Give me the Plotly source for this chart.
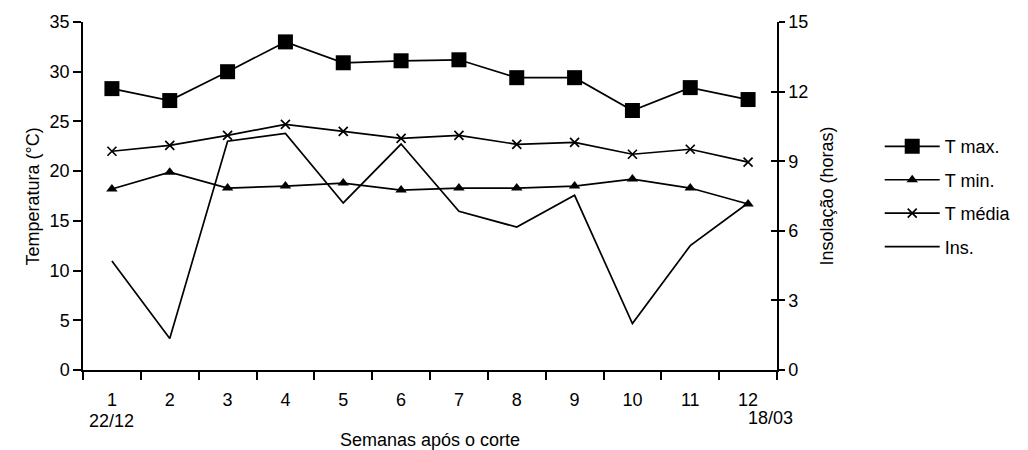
import plotly.graph_objects as go

weeks = ["1", "2", "3", "4", "5", "6", "7", "8", "9", "10", "11", "12"]
t_max = [28.3, 27.1, 30.0, 33.0, 30.9, 31.1, 31.2, 29.4, 29.4, 26.1, 28.4, 27.2]
t_min = [18.2, 19.9, 18.3, 18.5, 18.8, 18.1, 18.3, 18.3, 18.5, 19.2, 18.3, 16.7]
t_media = [22.0, 22.6, 23.6, 24.7, 24.0, 23.3, 23.6, 22.7, 22.9, 21.7, 22.2, 20.9]
insolacao = [4.7, 1.36, 9.86, 10.2, 7.2, 9.74, 6.84, 6.16, 7.53, 2.0, 5.36, 7.2]
date_labels = ["22/12", "18/03"]

FONT = "Liberation Sans, Arial, sans-serif"
BLACK = "#000000"

fig = go.Figure()
fig.add_trace(go.Scatter(x=weeks, y=t_max, name="T max.", mode="lines+markers",
                         line=dict(color=BLACK, width=1.7),
                         marker=dict(symbol="square", size=15, color=BLACK),
                         legendgroup="a"))
fig.add_trace(go.Scatter(x=weeks, y=t_min, name="T min.", mode="lines+markers",
                         line=dict(color=BLACK, width=1.7),
                         marker=dict(symbol="triangle-up", size=10, color=BLACK),
                         legendgroup="b"))
fig.add_trace(go.Scatter(x=weeks, y=t_media, name="T média", mode="lines+markers",
                         line=dict(color=BLACK, width=1.7),
                         marker=dict(symbol="x-thin", size=9, color=BLACK,
                                     line=dict(color=BLACK, width=1.7)),
                         legendgroup="c"))
fig.add_trace(go.Scatter(x=weeks, y=insolacao, name="Ins.", mode="lines",
                         line=dict(color=BLACK, width=1.7), yaxis="y2",
                         legendgroup="d"))
# invisible trace on yaxis3 so that the crossing ticks of the right axis are drawn
fig.add_trace(go.Scatter(x=weeks, y=insolacao, yaxis="y3", mode="lines",
                         line=dict(width=0), showlegend=False, hoverinfo="skip",
                         opacity=0))

axis_common = dict(showline=True, linecolor=BLACK, linewidth=1.5, showgrid=False,
                   zeroline=False, tickcolor=BLACK, tickwidth=1.5,
                   tickfont=dict(family=FONT, size=18, color=BLACK))

fig.update_layout(
    width=1028, height=450,
    margin=dict(l=83, r=246, t=20, b=80),
    paper_bgcolor="white", plot_bgcolor="white",
    font=dict(family=FONT, size=18, color=BLACK),
    xaxis=dict(type="category", tickson="boundaries", ticks="outside", ticklen=8,
               ticklabelstandoff=13, range=[-0.5, 11.5], **axis_common),
    yaxis=dict(range=[0, 35], dtick=5, ticks="outside", ticklen=8, **axis_common),
    yaxis2=dict(range=[0, 15], dtick=3, ticks="outside", ticklen=6, side="right",
                overlaying="y", anchor="x", **axis_common),
    yaxis3=dict(range=[0, 15], dtick=3, ticks="inside", ticklen=6, side="right",
                overlaying="y", anchor="x", showticklabels=False, showline=False,
                showgrid=False, zeroline=False, tickcolor=BLACK, tickwidth=1.5),
    showlegend=True,
    legend=dict(x=1.148, y=0.695, xanchor="left", yanchor="top",
                font=dict(family=FONT, size=18, color=BLACK),
                itemwidth=55, tracegroupgap=7, bgcolor="rgba(0,0,0,0)"),
    annotations=[
        dict(text="Semanas após o corte", xref="paper", yref="paper", x=0.5, y=0,
             yshift=-70, yanchor="middle", showarrow=False, font=dict(size=18)),
        dict(text="Temperatura (°C)", xref="paper", yref="paper", x=-0.0887, y=0.5,
             textangle=-90, showarrow=False, font=dict(size=18)),
        dict(text="Insolação (horas)", xref="paper", yref="paper", x=1.09, y=0.5,
             textangle=-90, showarrow=False, font=dict(size=18)),
        dict(text=date_labels[0], xref="x", yref="paper", x=0, y=0, yshift=-51,
             yanchor="middle", showarrow=False, font=dict(size=18)),
        dict(text=date_labels[1], xref="x", yref="paper", x=11, y=0, yshift=-48,
             yanchor="middle", xshift=22, showarrow=False, font=dict(size=18)),
    ],
)

fig.write_html("out.html")
